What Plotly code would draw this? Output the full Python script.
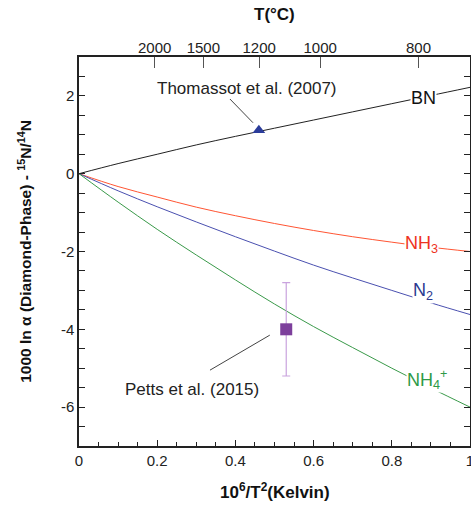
import plotly.graph_objects as go

# ---- data ----
x_vals = [0.0, 0.1, 0.2, 0.3, 0.4, 0.5, 0.6, 0.7, 0.8, 0.9, 1.0]
bn = [0.0, 0.26, 0.50, 0.74, 0.96, 1.17, 1.38, 1.59, 1.80, 2.01, 2.22]
nh3 = [0.0, -0.33, -0.60, -0.86, -1.08, -1.28, -1.46, -1.62, -1.76, -1.89, -2.0]
n2 = [0.0, -0.44, -0.85, -1.24, -1.62, -1.99, -2.35, -2.68, -3.00, -3.32, -3.62]
nh4 = [0.0, -0.73, -1.43, -2.09, -2.73, -3.35, -3.93, -4.47, -5.00, -5.51, -6.0]

thomassot_x = [0.46]
thomassot_y = [1.12]
petts_x = [0.53]
petts_y = [-4.0]
petts_err = [1.2]

x_tickvals = [0, 0.2, 0.4, 0.6, 0.8, 1.0]
x_ticktext = ["0", "0.2", "0.4", "0.6", "0.8", "1"]
y_tickvals = [-6, -4, -2, 0, 2]
y_ticktext = ["-6", "-4", "-2", "0", "2"]

top_temps_c = [2000, 1500, 1200, 1000, 800]
top_tickvals = [1e6 / (t + 273.15) ** 2 for t in top_temps_c]

FONT = "Liberation Sans, Arial, sans-serif"

fig = go.Figure()

fig.add_trace(go.Scatter(x=x_vals, y=bn, mode="lines", line=dict(color="#222222", width=1, shape="spline"), showlegend=False))
fig.add_trace(go.Scatter(x=x_vals, y=nh3, mode="lines", line=dict(color="#ff5533", width=1, shape="spline"), showlegend=False))
fig.add_trace(go.Scatter(x=x_vals, y=n2, mode="lines", line=dict(color="#4a50b0", width=1, shape="spline"), showlegend=False))
fig.add_trace(go.Scatter(x=x_vals, y=nh4, mode="lines", line=dict(color="#3a9a4a", width=1, shape="spline"), showlegend=False))

fig.add_trace(go.Scatter(x=thomassot_x, y=thomassot_y, mode="markers",
                         marker=dict(symbol="triangle-up", size=11, color="#2b3c9a"), showlegend=False))
fig.add_trace(go.Scatter(x=petts_x, y=petts_y, mode="markers",
                         marker=dict(symbol="square", size=12, color="#7d3f9c"),
                         error_y=dict(type="data", array=petts_err, color="#c9a3de", thickness=1.2, width=4),
                         showlegend=False))

# invisible trace for top axis
fig.add_trace(go.Scatter(x=[0, 1], y=[0, 0], xaxis="x2", mode="lines",
                         line=dict(width=0), hoverinfo="skip", showlegend=False, opacity=0))

# leader lines
fig.add_shape(type="line", x0=0.386, y0=1.92, x1=0.445, y1=1.31, line=dict(color="#444444", width=1), xref="x", yref="y")
fig.add_shape(type="line", x0=0.335, y0=-5.05, x1=0.488, y1=-4.15, line=dict(color="#444444", width=1), xref="x", yref="y")

ann_font = dict(family=FONT, size=17, color="#222222")
fig.add_annotation(x=0.43, y=2.2, text="Thomassot et al. (2007)", showarrow=False, font=ann_font)
fig.add_annotation(x=0.29, y=-5.56, text="Petts et al. (2015)", showarrow=False, font=ann_font)

lab = dict(family=FONT, size=18)
fig.add_annotation(x=0.88, y=1.95, text="BN", showarrow=False, font=dict(lab, color="#111111"), bgcolor="white", borderpad=0)
fig.add_annotation(x=0.875, y=-1.82, text="NH<sub>3</sub>", showarrow=False, font=dict(lab, color="#ee3322"), bgcolor="white", borderpad=0)
fig.add_annotation(x=0.88, y=-3.02, text="N<sub>2</sub>", showarrow=False, font=dict(lab, color="#2b3990"), bgcolor="white", borderpad=0)
fig.add_annotation(x=0.89, y=-5.28, text="NH<sub>4</sub><sup>+</sup>", showarrow=False, font=dict(lab, color="#2e9a48"), bgcolor="white", borderpad=0)

tick_font = dict(family=FONT, size=15, color="#222222")
title_font = dict(family=FONT, size=17, color="#111111")

# axis titles as annotations
fig.add_annotation(xref="paper", yref="paper", x=0.5, y=-0.115, yanchor="middle",
                   text="<b>10<sup>6</sup>/T<sup>2</sup>(Kelvin)</b>", showarrow=False, font=title_font)
fig.add_annotation(xref="paper", yref="paper", x=0.5, y=1.11, yanchor="middle",
                   text="<b>T(°C)</b>", showarrow=False, font=title_font)
fig.add_annotation(xref="paper", yref="paper", x=-0.14, y=0.5, xanchor="center", yanchor="middle", textangle=-90,
                   text="<b>1000 ln α (Diamond-Phase) - <sup>15</sup>N/<sup>14</sup>N</b>", showarrow=False,
                   font=dict(title_font, size=15.5))

fig.update_layout(
    width=471, height=510,
    margin=dict(l=79, r=1, t=57, b=64, autoexpand=False),
    plot_bgcolor="white", paper_bgcolor="white",
    xaxis=dict(range=[0, 1], tickvals=x_tickvals, ticktext=x_ticktext,
               ticks="inside", ticklen=6, tickwidth=1, tickcolor="#222",
               minor=dict(dtick=0.05, tick0=0, ticks="inside", ticklen=4, tickcolor="#222", showgrid=False),
               showgrid=False, zeroline=False, showline=True, linecolor="#222", linewidth=1.5,
               mirror=True, tickfont=tick_font, automargin=False, ticklabeloverflow="allow"),
    xaxis2=dict(range=[0, 1], overlaying="x", side="top", tickvals=top_tickvals,
                ticktext=[str(t) for t in top_temps_c],
                ticks="inside", ticklen=11, tickwidth=1, tickcolor="#555",
                showgrid=False, zeroline=False, showline=False, tickfont=tick_font, automargin=False),
    yaxis=dict(range=[-7, 3], tickvals=y_tickvals, ticktext=y_ticktext,
               ticks="inside", ticklen=6, tickwidth=1, tickcolor="#222",
               minor=dict(dtick=0.5, tick0=0, ticks="inside", ticklen=5, tickcolor="#222", showgrid=False),
               showgrid=False, zeroline=False, showline=True, linecolor="#222", linewidth=1.5,
               mirror="allticks", tickfont=tick_font, automargin=False),
)

fig.write_html("out.html", config={"displayModeBar": False},
               post_script="document.body.style.margin='0';document.body.style.padding='0';document.body.style.overflow='hidden';")
